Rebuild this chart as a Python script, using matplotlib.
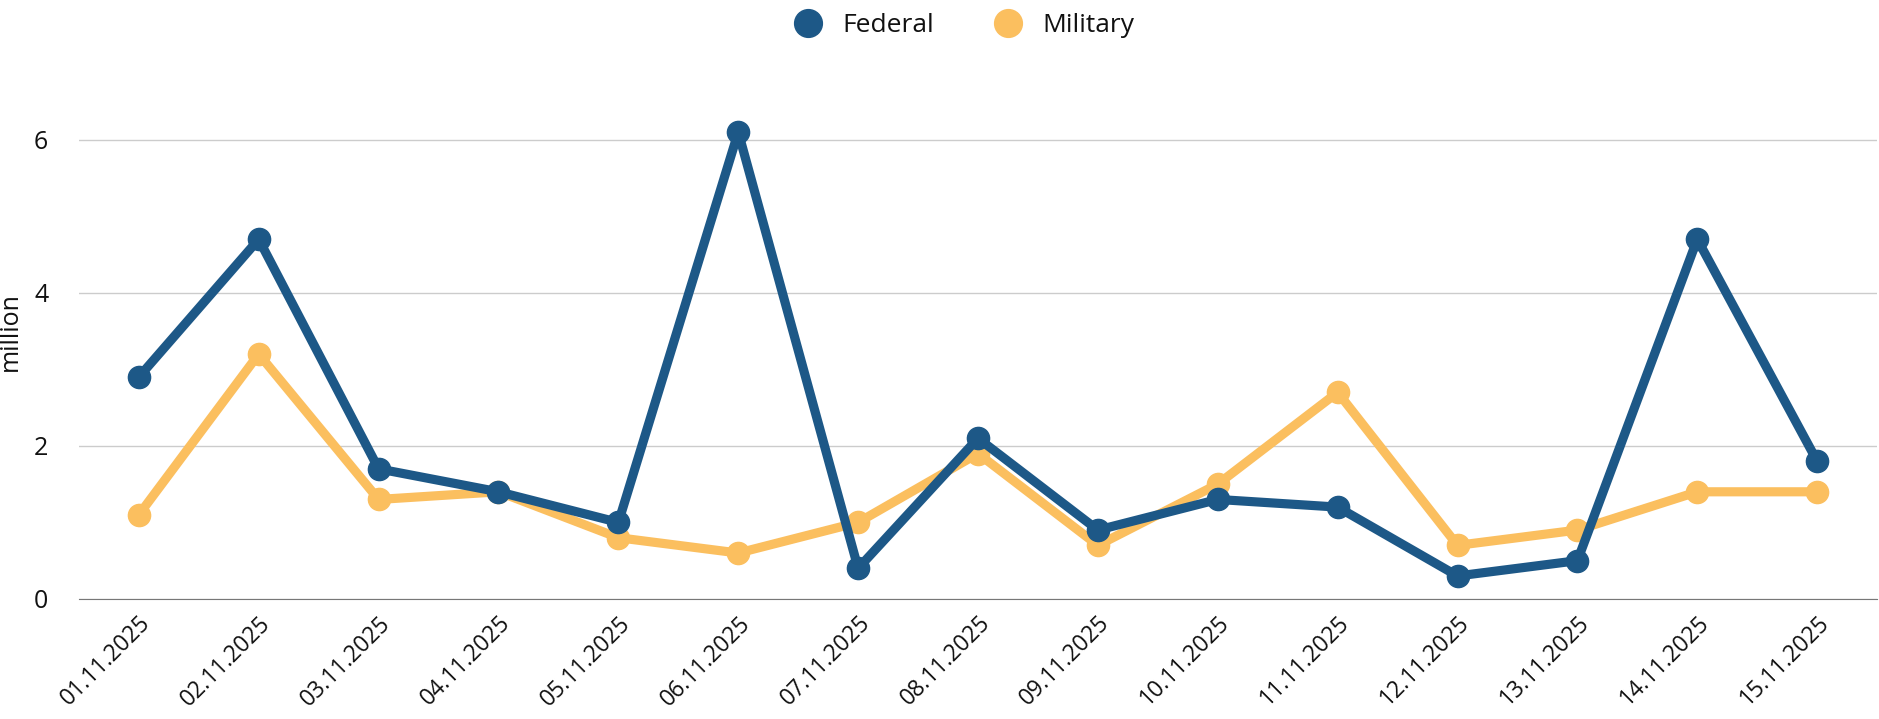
import matplotlib
matplotlib.use("Agg")
import matplotlib.pyplot as plt
from matplotlib.lines import Line2D

dates = ["01.11.2025", "02.11.2025", "03.11.2025", "04.11.2025", "05.11.2025",
         "06.11.2025", "07.11.2025", "08.11.2025", "09.11.2025", "10.11.2025",
         "11.11.2025", "12.11.2025", "13.11.2025", "14.11.2025", "15.11.2025"]
federal = [2.9, 4.7, 1.7, 1.4, 1.0, 6.1, 0.4, 2.1, 0.9, 1.3, 1.2, 0.3, 0.5, 4.7, 1.8]
military = [1.1, 3.2, 1.3, 1.4, 0.8, 0.6, 1.0, 1.9, 0.7, 1.5, 2.7, 0.7, 0.9, 1.4, 1.4]

blue = "#1d5887"
gold = "#fbbf5f"
ink = "#111111"

plt.rcParams['font.family'] = ['Open Sans', 'DejaVu Sans']

fig = plt.figure(figsize=(18.79, 7.19), dpi=100)
ax = fig.add_axes([0.042, 0.167, 0.957, 0.745])

x = range(len(dates))
ax.plot(x, federal, color=blue, lw=6.6, marker='o', ms=16, zorder=3)
ax.plot(x, military, color=gold, lw=6.6, marker='o', ms=16, zorder=2)

ax.set_xlim(-0.5, len(dates) - 0.5)
ax.set_ylim(0, 7)
ax.set_yticks([0, 2, 4, 6])
ax.set_xticks(list(x))
ax.set_xticklabels(dates, rotation=45, ha='right', rotation_mode='anchor',
                   fontsize=16.5)
ax.tick_params(axis='y', labelsize=18)
ax.tick_params(axis='both', length=0, colors=ink)
ax.tick_params(axis='x', pad=9)
ax.tick_params(axis='y', pad=22)
ax.grid(axis='y', color='#cccccc', lw=1)
ax.set_axisbelow(True)
for s in ['top', 'right', 'left']:
    ax.spines[s].set_visible(False)
ax.spines['bottom'].set_color('#777777')
ax.spines['bottom'].set_zorder(1)
ax.set_ylabel("million", fontsize=18, labelpad=8, color=ink)

handles = [Line2D([], [], color=blue, marker='o', ls='', ms=20),
           Line2D([], [], color=gold, marker='o', ls='', ms=20)]
leg = fig.legend(handles, ["Federal", "Military"], loc='upper center', ncol=2,
                 bbox_to_anchor=(0.51, 1.015), frameon=False, fontsize=19,
                 handletextpad=0.3, columnspacing=1.8)
for t in leg.get_texts():
    t.set_color(ink)

fig.savefig("out.png", dpi=100)
